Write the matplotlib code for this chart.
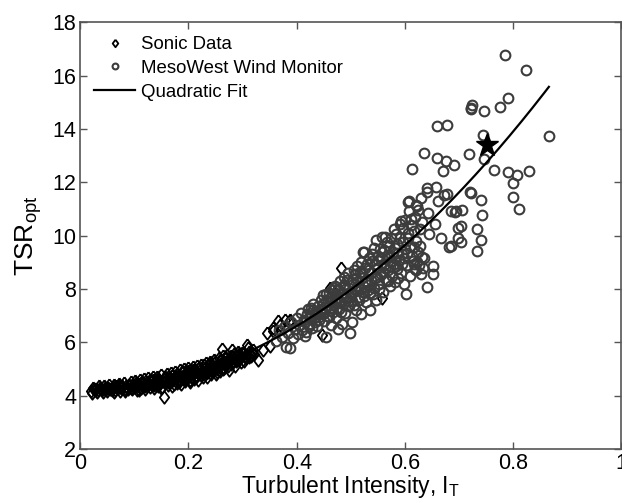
import matplotlib
matplotlib.use("Agg")
import matplotlib.pyplot as plt
import numpy as np

plt.rcParams['font.family'] = ['Liberation Sans', 'DejaVu Sans']

# Sonic anemometer data (TI, TSR_opt)
sonic_x = [0.020, 0.026, 0.031, 0.036, 0.041, 0.046, 0.050, 0.055, 0.060, 0.064, 0.069, 0.073,
           0.078, 0.082, 0.087, 0.091, 0.096, 0.100, 0.104, 0.108, 0.112, 0.116, 0.120, 0.124,
           0.128, 0.132, 0.136, 0.140, 0.144, 0.148, 0.152, 0.155, 0.158, 0.162, 0.166, 0.170,
           0.174, 0.178, 0.182, 0.186, 0.190, 0.194, 0.198, 0.202, 0.206, 0.210, 0.214, 0.218,
           0.222, 0.226, 0.230, 0.234, 0.238, 0.242, 0.246, 0.250, 0.254, 0.258, 0.262, 0.266,
           0.270, 0.274, 0.278, 0.282, 0.286, 0.290, 0.294, 0.298, 0.302, 0.306, 0.310, 0.316,
           0.322, 0.329, 0.338, 0.345, 0.351, 0.357, 0.357, 0.366, 0.370, 0.379, 0.385, 0.388,
           0.308, 0.292, 0.280, 0.462, 0.481, 0.558, 0.447,
           0.023, 0.028, 0.034, 0.039, 0.044, 0.048, 0.053, 0.058, 0.062, 0.067, 0.071, 0.076,
           0.080, 0.085, 0.089, 0.094, 0.098, 0.102, 0.106, 0.110, 0.114, 0.118, 0.122, 0.126,
           0.130, 0.134, 0.138, 0.142, 0.146, 0.150, 0.154, 0.160, 0.164, 0.168, 0.172, 0.176,
           0.180, 0.184, 0.188, 0.192, 0.196, 0.200, 0.204, 0.208, 0.212, 0.216, 0.220, 0.224,
           0.228, 0.232, 0.236, 0.240, 0.244, 0.248, 0.252, 0.256, 0.260, 0.264, 0.268, 0.272,
           0.276, 0.284, 0.288, 0.296, 0.304, 0.312, 0.320,
           0.030, 0.045, 0.060, 0.075, 0.090, 0.105, 0.115, 0.125, 0.135, 0.145, 0.155, 0.165,
           0.175, 0.185, 0.195, 0.205, 0.215, 0.225, 0.235, 0.245, 0.255, 0.265, 0.275, 0.285,
           0.295,
           0.022, 0.032, 0.042, 0.052, 0.062, 0.072, 0.083, 0.093, 0.103, 0.109, 0.119, 0.129,
           0.137, 0.143, 0.149, 0.157, 0.163, 0.169, 0.173, 0.179, 0.183, 0.189, 0.193, 0.199,
           0.203, 0.209, 0.213, 0.219, 0.223, 0.229, 0.233, 0.239, 0.243, 0.249, 0.253, 0.259,
           0.263, 0.269, 0.273, 0.279, 0.283, 0.289, 0.293, 0.299, 0.303, 0.311, 0.318]
sonic_y = [4.18, 4.25, 4.15, 4.28, 4.20, 4.30, 4.17, 4.26, 4.33, 4.22, 4.29, 4.18,
           4.36, 4.24, 4.31, 4.40, 4.26, 4.33, 4.21, 4.45, 4.30, 4.38, 4.25, 4.50,
           4.34, 4.42, 4.29, 4.55, 4.37, 4.47, 4.33, 3.95, 4.60, 4.42, 4.52, 4.38,
           4.66, 4.48, 4.58, 4.45, 4.75, 4.55, 4.68, 4.52, 4.85, 4.63, 4.77, 4.60,
           4.95, 4.72, 4.88, 4.70, 5.05, 4.82, 4.98, 4.80, 5.15, 4.93, 5.75, 5.05,
           5.28, 4.95, 5.20, 5.45, 5.10, 5.35, 5.55, 5.25, 5.62, 5.40, 5.80, 5.50,
           5.58, 5.33, 5.71, 6.34, 5.85, 6.43, 6.53, 6.79, 6.64, 6.84, 6.75, 6.84,
           5.90, 5.66, 5.71, 8.04, 8.79, 7.66, 6.28,
           4.30, 4.22, 4.35, 4.26, 4.38, 4.24, 4.40, 4.21, 4.42, 4.35, 4.45, 4.28,
           4.48, 4.37, 4.25, 4.50, 4.42, 4.55, 4.38, 4.60, 4.45, 4.62, 4.40, 4.66,
           4.52, 4.70, 4.45, 4.72, 4.60, 4.78, 4.50, 4.82, 4.68, 4.85, 4.58, 4.90,
           4.76, 4.95, 4.65, 5.00, 4.85, 5.05, 4.72, 5.08, 4.92, 5.12, 4.82, 5.15,
           5.00, 5.22, 4.90, 5.28, 5.10, 5.35, 5.02, 5.40, 5.18, 5.48, 5.15, 5.52,
           5.35, 5.58, 5.30, 5.42, 5.50, 5.65, 5.70,
           4.24, 4.27, 4.28, 4.33, 4.36, 4.40, 4.52, 4.44, 4.58, 4.52, 4.62, 4.60,
           4.72, 4.70, 4.78, 4.80, 4.88, 4.90, 5.00, 5.05, 5.10, 5.25, 5.30, 5.40,
           5.48,
           4.12, 4.20, 4.13, 4.28, 4.15, 4.38, 4.19, 4.30, 4.48, 4.22, 4.35, 4.60,
           4.40, 4.63, 4.28, 4.70, 4.50, 4.74, 4.45, 4.82, 4.52, 4.88, 4.62, 4.92,
           4.60, 4.98, 4.70, 5.05, 4.78, 5.15, 4.85, 5.18, 4.95, 5.25, 4.88, 5.30,
           5.02, 5.40, 5.10, 5.48, 5.25, 5.50, 5.35, 5.60, 5.32, 5.45, 5.62]

# MesoWest wind monitor data (TI, TSR_opt)
meso_x = [0.362, 0.368, 0.372, 0.378, 0.381, 0.387, 0.384, 0.390, 0.393, 0.397, 0.400, 0.402,
          0.405, 0.408, 0.410, 0.413, 0.416, 0.418, 0.420, 0.422, 0.425, 0.426, 0.428, 0.430,
          0.432, 0.435, 0.437, 0.440, 0.442, 0.444, 0.446, 0.448, 0.450, 0.452, 0.455, 0.455,
          0.457, 0.459, 0.461, 0.463, 0.465, 0.467, 0.469, 0.470, 0.472, 0.474, 0.476, 0.477,
          0.478, 0.480, 0.482, 0.483, 0.485, 0.487, 0.489, 0.490, 0.492, 0.494, 0.496, 0.498,
          0.499, 0.500, 0.502,
          0.503, 0.505, 0.507, 0.509, 0.510, 0.512, 0.514, 0.516, 0.518, 0.518, 0.520, 0.522,
          0.523, 0.525, 0.526, 0.528, 0.530, 0.532, 0.534, 0.535, 0.536, 0.538, 0.540, 0.542,
          0.543, 0.544, 0.546, 0.547, 0.548, 0.550,
          0.552, 0.554, 0.556, 0.558, 0.558, 0.560, 0.562, 0.563, 0.565, 0.567, 0.569, 0.570,
          0.572, 0.574, 0.576, 0.578, 0.580, 0.581, 0.583, 0.585, 0.587, 0.589, 0.590, 0.592,
          0.593, 0.595, 0.597, 0.598, 0.600,
          0.602, 0.603, 0.605, 0.607, 0.607, 0.609, 0.610, 0.612, 0.614, 0.615, 0.617, 0.617,
          0.619, 0.621, 0.622, 0.623, 0.625, 0.627, 0.629, 0.630, 0.632, 0.636, 0.636, 0.640,
          0.641, 0.641, 0.643, 0.645, 0.652, 0.652, 0.656, 0.657, 0.660, 0.660, 0.661, 0.667,
          0.671, 0.676, 0.677, 0.678, 0.686, 0.686, 0.691, 0.694, 0.704, 0.704, 0.705,
          0.605, 0.621, 0.673, 0.692, 0.698, 0.682, 0.698,
          0.719, 0.721, 0.723, 0.722, 0.723, 0.724, 0.733, 0.733, 0.740, 0.740, 0.743, 0.744,
          0.747, 0.747, 0.764, 0.776, 0.785, 0.790, 0.790, 0.800, 0.800, 0.808, 0.811, 0.823,
          0.830, 0.866,
          0.415, 0.419, 0.423, 0.427, 0.431, 0.434, 0.438, 0.441, 0.445, 0.449, 0.451, 0.454,
          0.456, 0.458, 0.460, 0.462, 0.464, 0.466, 0.468, 0.471, 0.473, 0.475, 0.477, 0.479,
          0.481, 0.484, 0.486, 0.488, 0.491, 0.493, 0.495, 0.497, 0.501, 0.504, 0.506, 0.508,
          0.511, 0.513, 0.515, 0.517, 0.519, 0.521, 0.524, 0.527, 0.529, 0.531, 0.533, 0.537,
          0.539, 0.541, 0.545, 0.549, 0.551, 0.553, 0.557, 0.559, 0.561, 0.564, 0.566, 0.568,
          0.571, 0.573, 0.575, 0.579, 0.582, 0.584, 0.586, 0.588, 0.591, 0.594, 0.596, 0.599,
          0.601, 0.604, 0.606, 0.611, 0.613, 0.616, 0.618, 0.620, 0.624, 0.626, 0.628, 0.631,
          0.633]
meso_y = [6.05, 6.45, 6.20, 6.60, 5.83, 5.79, 6.35, 6.75, 6.15, 6.50, 6.90, 6.30,
          6.65, 7.10, 6.45, 6.85, 6.26, 6.39, 7.25, 6.70, 7.00, 7.28, 6.55, 7.45,
          6.90, 7.15, 6.60, 7.35, 6.95, 7.60, 7.05, 7.78, 6.80, 7.30, 6.22, 7.55,
          7.00, 7.85, 7.20, 6.65, 7.70, 7.40, 8.05, 8.13, 6.90, 7.60, 7.95, 6.51,
          7.25, 8.30, 7.50, 6.70, 7.80, 8.45, 7.10, 8.10, 7.65, 8.60, 7.35, 7.90,
          6.35, 8.25, 6.76,
          7.55, 8.70, 7.95, 8.40, 7.20, 8.85, 8.10, 7.70, 9.00, 7.07, 8.55, 9.40,
          7.90, 9.38, 8.30, 7.50, 8.95, 8.15, 9.15, 7.20, 7.85, 8.60, 9.30, 8.05,
          9.56, 8.40, 9.85, 7.60, 8.80, 9.10,
          8.20, 9.50, 8.55, 9.94, 9.38, 7.90, 8.90, 9.97, 8.35, 9.25, 8.70, 9.60,
          8.10, 9.05, 8.50, 9.40, 10.25, 8.25, 8.85, 9.70, 8.40, 9.10, 10.45, 10.56,
          8.60, 9.30, 9.75, 8.20, 9.50,
          7.82, 8.90, 10.10, 10.93, 11.31, 8.50, 9.60, 10.62, 12.52, 9.05, 10.19, 9.57,
          8.75, 8.70, 9.00, 11.12, 9.40, 10.25, 11.43, 8.55, 9.20, 9.15, 13.12, 11.80,
          11.65, 8.07, 10.87, 10.05, 8.57, 8.88, 10.43, 11.83, 14.11, 12.93, 11.31, 9.90,
          12.43, 12.80, 11.58, 14.17, 10.93, 9.63, 12.64, 10.93, 10.37, 9.75, 10.97,
          11.27, 11.15, 11.52, 10.90, 10.30, 9.59, 9.90,
          13.08, 11.65, 11.60, 14.80, 14.75, 14.90, 10.25, 9.44, 11.33, 9.85, 10.77, 13.77,
          14.67, 12.87, 12.47, 14.84, 16.79, 15.15, 12.39, 11.98, 11.46, 12.28, 11.02, 16.20,
          12.43, 13.74,
          6.75, 7.05, 6.60, 6.95, 7.20, 6.75, 7.05, 6.85, 7.25, 7.45, 7.10, 7.80,
          7.35, 7.55, 6.95, 7.65, 7.30, 7.95, 7.15, 7.50, 7.80, 7.30, 8.00, 7.55,
          7.15, 7.85, 7.45, 8.15, 7.70, 8.35, 7.55, 8.05, 7.80, 8.20, 7.40, 8.55,
          7.95, 8.30, 7.60, 8.65, 8.00, 8.40, 7.75, 8.80, 8.25, 7.95, 8.70, 8.35,
          9.05, 7.80, 8.95, 8.45, 9.25, 8.00, 9.15, 8.65, 9.45, 8.80, 9.75, 8.30,
          9.20, 8.85, 9.90, 8.95, 9.55, 10.05, 8.75, 9.35, 9.90, 8.95, 10.30, 9.15,
          10.60, 9.35, 9.90, 10.40, 9.25, 8.95, 10.70, 9.80, 10.95, 8.90, 9.60, 10.50,
          8.80]

# quadratic fit TSR = c2*TI^2 + c1*TI + c0
fit_coef = [15.3, -0.115, 4.21]
fit_range = [0.02, 0.866]

# highlighted case
star_x = [0.751]
star_y = [13.40]

diamond = [(0, 1), (0.75, 0), (0, -1), (-0.75, 0), (0, 1)]

fig = plt.figure(figsize=(6.22, 4.99), dpi=100)
ax = fig.add_axes([0.129, 0.100, 0.870, 0.855])

ax.plot(sonic_x, sonic_y, linestyle='none', marker=diamond, markersize=9,
        markerfacecolor='none', markeredgecolor='black', markeredgewidth=1.3,
        label='Sonic Data')
ax.plot(meso_x, meso_y, linestyle='none', marker='o', markersize=7,
        markerfacecolor='none', markeredgecolor='#3c3c3c', markeredgewidth=1.5,
        label='MesoWest Wind Monitor')
xf = np.linspace(fit_range[0], fit_range[1], 200)
ax.plot(xf, np.polyval(fit_coef, xf), color='black', lw=1.6, label='Quadratic Fit')
ax.plot(star_x, star_y, linestyle='none', marker='*', markersize=17, color='black')

ax.set_xlim(0, 1)
ax.set_ylim(2, 18)
ax.set_xticks([0, 0.2, 0.4, 0.6, 0.8, 1])
ax.set_xticklabels(['0', '0.2', '0.4', '0.6', '0.8', '1'])
ax.set_yticks(range(2, 19, 2))
ax.tick_params(direction='in', top=True, right=True, length=5, width=1,
               color='#555555', labelsize=15.5, pad=3)
for s in ax.spines.values():
    s.set_color('#555555')
    s.set_linewidth(1.2)

ax.set_xlabel('Turbulent Intensity, I$_\\mathregular{T}$', fontsize=16.5, labelpad=-1)
ax.set_ylabel('TSR$_\\mathregular{opt}$', fontsize=19, labelpad=6)

leg = ax.legend(loc='upper left', frameon=False, fontsize=13.4, numpoints=1,
                markerscale=0.6, handlelength=2.2, handletextpad=0.3,
                labelspacing=0.35, borderaxespad=0.35)

fig.savefig('out.png', dpi=100)
